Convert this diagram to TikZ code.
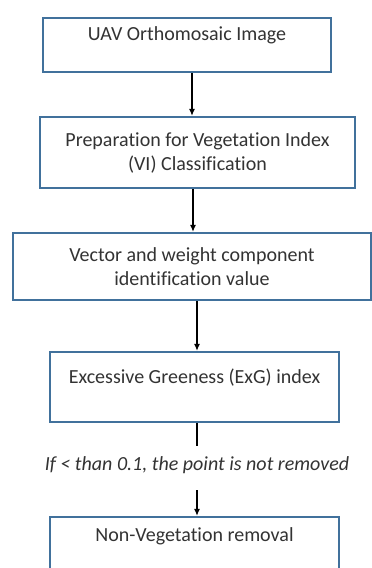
\documentclass[tikz,border=0pt]{standalone}
\usepackage{fontspec}
\setmainfont[Ligatures=NoCommon]{Carlito}
\usetikzlibrary{arrows.meta,calc}
\definecolor{boxblue}{RGB}{65,113,156}
\begin{document}
\begin{tikzpicture}[x=1pt,y=-1pt,
  box/.style={draw=boxblue,line width=2.4pt,fill=white,inner sep=0pt},
  txt/.style={font=\fontsize{20}{24.5}\selectfont,text=black!80,align=center,inner sep=0pt},
  arr/.style={line width=1.1pt,-{Latex[length=7pt,width=6pt]}},
  ln/.style={line width=1.1pt}]
\useasboundingbox (0,0) rectangle (372,568);
\clip (0,0) rectangle (372,568);
\node[box,minimum width=288,minimum height=54] (b1) at (187,45) {};
\node[txt] (t1) at (187,35) {UAV Orthomosaic Image};
\node[box,minimum width=315,minimum height=71] (b2) at (197.5,152.5) {};
\node[txt] (t2) at (197.5,153) {Preparation for Vegetation Index\\(VI) Classification};
\node[box,minimum width=358,minimum height=67] (b3) at (192,266.5) {};
\node[txt] (t3) at (192,266.5) {Vector and weight component\\identification value};
\node[box,minimum width=289,minimum height=70] (b4) at (194.5,387) {};
\node[txt] (t4) at (194.5,378) {Excessive Greeness (ExG) index};
\node[txt,font=\fontsize{20}{24}\selectfont\itshape] (cond) at (197,465) {If < than 0.1, the point is not removed};
\node[box,minimum width=289,minimum height=70] (b5) at (194.5,552) {};
\node[txt] (t5) at (194.5,536) {Non-Vegetation removal};
\draw[arr] ([xshift=5pt]b1.south) -- ([xshift=5pt]b1.south |- b2.north);
\draw[arr] ([xshift=-4.5pt]b2.south) -- ([xshift=-4.5pt]b2.south |- b3.north);
\draw[arr] ([xshift=5pt]b3.south) -- ([xshift=5pt]b3.south |- b4.north);
\coordinate (lend) at (197,446);
\draw[ln] (b4.south -| lend) -- (lend);
\coordinate (astart) at (197,490);
\draw[arr] (astart) -- (astart |- b5.north);
\end{tikzpicture}
\end{document}
